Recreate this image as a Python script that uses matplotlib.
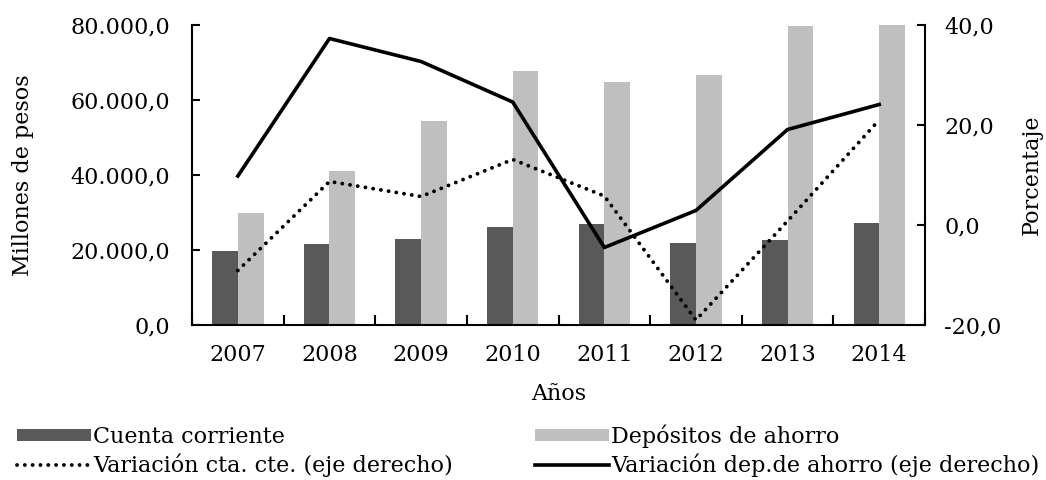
import matplotlib.pyplot as plt
from matplotlib.ticker import FixedLocator, FuncFormatter
import numpy as np

# data
years = ['2007', '2008', '2009', '2010', '2011', '2012', '2013', '2014']
cuenta_corriente = [19800, 21500, 23000, 26100, 27000, 22000, 22600, 27200]
depositos_ahorro = [29800, 41000, 54500, 67800, 64700, 66800, 79700, 80000]
var_cta_cte = [-9.1, 8.7, 5.7, 13.1, 5.8, -19.0, 0.8, 21.0]
var_dep_ahorro = [9.8, 37.3, 32.7, 24.6, -4.5, 2.9, 19.1, 24.1]

plt.rcParams['font.family'] = ['DejaVu Serif']

fig = plt.figure(figsize=(10.46, 4.8), dpi=100)
ax = fig.add_axes([0.1836, 0.3229, 0.7007, 0.625])

x = np.arange(len(years))
w = 0.28
b1 = ax.bar(x - w / 2, cuenta_corriente, width=w, color='#595959', label='Cuenta corriente')
b2 = ax.bar(x + w / 2, depositos_ahorro, width=w, color='#bfbfbf', label='Depósitos de ahorro')

ax.set_xlim(-0.5, len(years) - 0.5)
ax.set_ylim(0, 80000)
ax.set_yticks([0, 20000, 40000, 60000, 80000])
ax.yaxis.set_major_formatter(FuncFormatter(
    lambda v, p: '{:,.1f}'.format(v).replace(',', 'X').replace('.', ',').replace('X', '.')))
ax.set_xticks(x)
ax.set_xticklabels(years)
ax.xaxis.set_minor_locator(FixedLocator(np.arange(len(years) + 1) - 0.5))
ax.tick_params(axis='x', which='major', length=0, labelsize=16, pad=14)
ax.tick_params(axis='x', which='minor', direction='in', length=7, width=1.5)
ax.tick_params(axis='y', direction='in', length=6, width=1.5, labelsize=16, pad=16)
ax.spines['top'].set_visible(False)
ax.spines['right'].set_visible(False)
for s in ['left', 'bottom']:
    ax.spines[s].set_linewidth(1.5)
ax.set_ylabel('Millones de pesos', fontsize=16, labelpad=26)
ax.set_xlabel('Años', fontsize=16, labelpad=12)

ax2 = ax.twinx()
l1, = ax2.plot(x, var_cta_cte, color='black', lw=2.8, linestyle=(0, (0.01, 2.0)),
               dash_capstyle='round', label='Variación cta. cte. (eje derecho)')
l2, = ax2.plot(x, var_dep_ahorro, color='black', lw=2.6,
               label='Variación dep.de ahorro (eje derecho)')
ax2.set_ylim(-20, 40)
ax2.set_yticks([-20, 0, 20, 40])
ax2.yaxis.set_major_formatter(FuncFormatter(lambda v, p: '{:.1f}'.format(v).replace('.', ',')))
ax2.tick_params(axis='y', direction='in', length=6, width=1.5, labelsize=16, pad=14)
ax2.spines['top'].set_visible(False)
ax2.spines['left'].set_visible(False)
ax2.spines['bottom'].set_visible(False)
ax2.spines['right'].set_linewidth(1.5)
ax2.set_ylabel('Porcentaje', fontsize=16, labelpad=14)

fig.legend([b1, l1, b2, l2],
           ['Cuenta corriente', 'Variación cta. cte. (eje derecho)',
            'Depósitos de ahorro', 'Variación dep.de ahorro (eje derecho)'],
           ncol=2, loc='lower left', bbox_to_anchor=(0.008, -0.012), frameon=False,
           fontsize=16, handlelength=3.3, handleheight=0.45, handletextpad=0.12,
           columnspacing=3.7, labelspacing=0.25, borderaxespad=0.0)

fig.savefig('out.png', dpi=100)
